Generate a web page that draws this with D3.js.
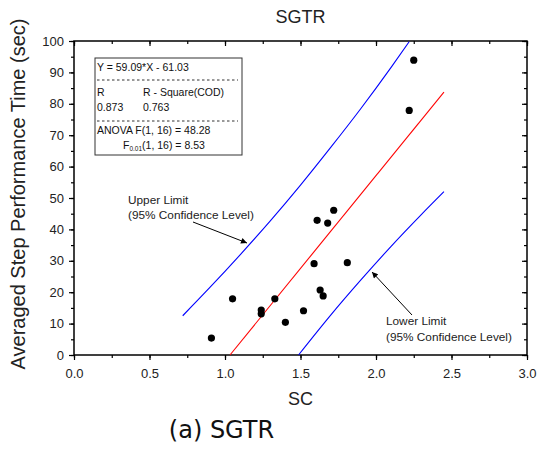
<!DOCTYPE html>
<html>
<head>
<meta charset="utf-8">
<script src="https://cdn.jsdelivr.net/npm/d3@7"></script>
<style>
  body { margin: 0; background: #fff; }
  svg text { font-family: "Liberation Sans", Arial, sans-serif; }
</style>
</head>
<body>
<div id="chart-area"></div>
<script>
// measured points (SC, time in sec)
var scValues = [0.91, 1.05, 1.24, 1.24, 1.33, 1.40, 1.52, 1.59, 1.61, 1.63, 1.65, 1.68, 1.72, 1.81, 2.22, 2.25];
var timeValues = [5.4, 17.9, 14.3, 13.1, 17.9, 10.4, 14.1, 29.1, 42.9, 20.7, 18.8, 42.0, 46.1, 29.4, 77.9, 93.9];

// fitted line end points
var fitX = [1.033, 2.45];
var fitY = [0, 83.7];

// 95% confidence limits
var upperX = [0.72, 0.90, 1.10, 1.30, 1.50, 1.70, 1.90, 2.10, 2.22];
var upperY = [12.5, 21.5, 31.9, 42.7, 54.1, 66.1, 78.5, 91.6, 99.8];
var lowerX = [1.487, 1.70, 1.90, 2.10, 2.30, 2.45];
var lowerY = [0, 12.7, 23.9, 34.6, 44.7, 52.0];

var xTicks = [0, 0.5, 1.0, 1.5, 2.0, 2.5, 3.0];
var yTicks = [0, 10, 20, 30, 40, 50, 60, 70, 80, 90, 100];

var statLines = ['Y = 59.09*X - 61.03', 'R', '0.873', 'ANOVA F(1, 16) = 48.28'];

var margin = { top: 41, right: 12, bottom: 95, left: 74 },
	width = 539 - margin.left - margin.right,
	height = 450 - margin.top - margin.bottom;

var svg = d3.select('#chart-area')
	.append('svg')
		.attr('width', 539)
		.attr('height', 450);

var g = svg.append('g')
	.attr('transform', 'translate(' + margin.left + ', ' + margin.top + ')');

var xScale = d3.scaleLinear().domain([0, 3]).range([0, width]);
var yScale = d3.scaleLinear().domain([0, 100]).range([height, 0]);

// minor ticks
var xMinor = d3.range(0, 3.01, 0.25);
var yMinor = d3.range(0, 100.1, 5);

var xAxis = g.append('g')
	.attr('transform', 'translate(0, ' + height + ')')
	.call(d3.axisBottom(xScale).tickValues(xTicks).tickFormat(d3.format('.1f')).tickSize(5).tickSizeOuter(0));
var yAxis = g.append('g')
	.call(d3.axisLeft(yScale).tickValues(yTicks).tickSize(5).tickPadding(5).tickSizeOuter(0));
g.append('g')
	.call(d3.axisBottom(xScale).tickValues(xTicks).tickSize(5).tickSizeOuter(0).tickFormat(''));
g.append('g')
	.attr('transform', 'translate(' + width + ', 0)')
	.call(d3.axisLeft(yScale).tickValues(yTicks).tickSize(5).tickSizeOuter(0).tickFormat(''));

g.append('g').attr('transform', 'translate(0, ' + height + ')')
	.call(d3.axisBottom(xScale).tickValues(xMinor).tickSize(3).tickSizeOuter(0).tickFormat(''));
g.append('g')
	.call(d3.axisLeft(yScale).tickValues(yMinor).tickSize(3).tickSizeOuter(0).tickFormat(''));
g.append('g')
	.call(d3.axisBottom(xScale).tickValues(xMinor).tickSize(3).tickSizeOuter(0).tickFormat(''));
g.append('g').attr('transform', 'translate(' + width + ', 0)')
	.call(d3.axisLeft(yScale).tickValues(yMinor).tickSize(3).tickSizeOuter(0).tickFormat(''));

g.selectAll('.domain').remove();
g.selectAll('.tick line').attr('stroke', '#000').attr('stroke-width', 1.2);
g.selectAll('.tick text')
	.attr('font-size', '13px')
	.attr('fill', '#222');
xAxis.selectAll('.tick text').attr('y', 23).attr('dy', 0);

g.append('rect')
	.attr('width', width)
	.attr('height', height)
	.attr('fill', 'none')
	.attr('stroke', '#000')
	.attr('stroke-width', 1.5);

var line = d3.line()
	.x(d => xScale(d[0]))
	.y(d => yScale(d[1]));

g.append('path')
	.datum(upperX.map((x, i) => [x, upperY[i]]))
	.attr('d', line.curve(d3.curveMonotoneX))
	.attr('fill', 'none').attr('stroke', '#0000ff').attr('stroke-width', 1.1);
g.append('path')
	.datum(lowerX.map((x, i) => [x, lowerY[i]]))
	.attr('d', line.curve(d3.curveMonotoneX))
	.attr('fill', 'none').attr('stroke', '#0000ff').attr('stroke-width', 1.1);
g.append('path')
	.datum(fitX.map((x, i) => [x, fitY[i]]))
	.attr('d', line.curve(d3.curveLinear))
	.attr('fill', 'none').attr('stroke', '#ff0000').attr('stroke-width', 1.1);

g.selectAll('circle')
	.data(scValues.map((x, i) => [x, timeValues[i]]))
	.enter().append('circle')
		.attr('cx', d => xScale(d[0]))
		.attr('cy', d => yScale(d[1]))
		.attr('r', 3.6)
		.attr('fill', '#000');

// arrows
svg.append('defs').append('marker')
	.attr('id', 'arrow')
	.attr('viewBox', '0 0 10 10')
	.attr('refX', 10).attr('refY', 5)
	.attr('markerWidth', 9).attr('markerHeight', 6)
	.attr('markerUnits', 'userSpaceOnUse')
	.attr('orient', 'auto')
	.append('path').attr('d', 'M0,0 L10,5 L0,10 z').attr('fill', '#000');

svg.append('line')
	.attr('x1', 193).attr('y1', 222).attr('x2', 247).attr('y2', 243)
	.attr('stroke', '#000').attr('stroke-width', 1).attr('marker-end', 'url(#arrow)');
svg.append('line')
	.attr('x1', 412).attr('y1', 315).attr('x2', 372).attr('y2', 272)
	.attr('stroke', '#000').attr('stroke-width', 1).attr('marker-end', 'url(#arrow)');

var note = svg.append('g').attr('font-size', '11.8px').attr('fill', '#222');
note.append('text').attr('x', 128).attr('y', 204).text('Upper Limit');
note.append('text').attr('x', 128).attr('y', 219).text('(95% Confidence Level)');
note.append('text').attr('x', 386).attr('y', 325).text('Lower Limit');
note.append('text').attr('x', 386).attr('y', 341).text('(95% Confidence Level)');

// stats box
var box = svg.append('g').attr('font-size', '10.5px').attr('fill', '#111');
box.append('rect')
	.attr('x', 95).attr('y', 58).attr('width', 147).attr('height', 97)
	.attr('fill', '#fff').attr('stroke', '#333').attr('stroke-width', 1);
box.append('text').attr('x', 97).attr('y', 71).text(statLines[0]);
box.append('line').attr('x1', 97).attr('x2', 238).attr('y1', 80).attr('y2', 80)
	.attr('stroke', '#333').attr('stroke-dasharray', '2.5,2.5');
box.append('text').attr('x', 97).attr('y', 96).text(statLines[1]);
box.append('text').attr('x', 143).attr('y', 96).text('R - Square(COD)');
box.append('text').attr('x', 97).attr('y', 111).text(statLines[2]);
box.append('text').attr('x', 143).attr('y', 111).text('0.763');
box.append('line').attr('x1', 97).attr('x2', 238).attr('y1', 121).attr('y2', 121)
	.attr('stroke', '#333').attr('stroke-dasharray', '2.5,2.5');
box.append('text').attr('x', 97).attr('y', 134).text(statLines[3]);
var f = box.append('text').attr('x', 123).attr('y', 149);
f.append('tspan').text('F');
f.append('tspan').attr('font-size', '6.5px').attr('dy', 2).text('0.01');
f.append('tspan').attr('dy', -2).text('(1, 16) = 8.53');

// titles
svg.append('text')
	.attr('x', margin.left + width / 2).attr('y', 23)
	.attr('text-anchor', 'middle').attr('font-size', '18px').attr('fill', '#222')
	.text('SGTR');
svg.append('text')
	.attr('x', margin.left + width / 2).attr('y', 405)
	.attr('text-anchor', 'middle').attr('font-size', '18px').attr('fill', '#222')
	.text('SC');
svg.append('text')
	.attr('transform', 'translate(25, 194) rotate(-90)')
	.attr('text-anchor', 'middle').attr('font-size', '20px').attr('fill', '#222')
	.text('Averaged Step Performance Time (sec)');
svg.append('text')
	.attr('x', 221.5).attr('y', 438)
	.attr('text-anchor', 'middle').attr('font-size', '24px').attr('fill', '#111')
	.style('font-family', '"DejaVu Sans", Verdana, sans-serif')
	.text('(a) SGTR');
</script>
</body>
</html>
